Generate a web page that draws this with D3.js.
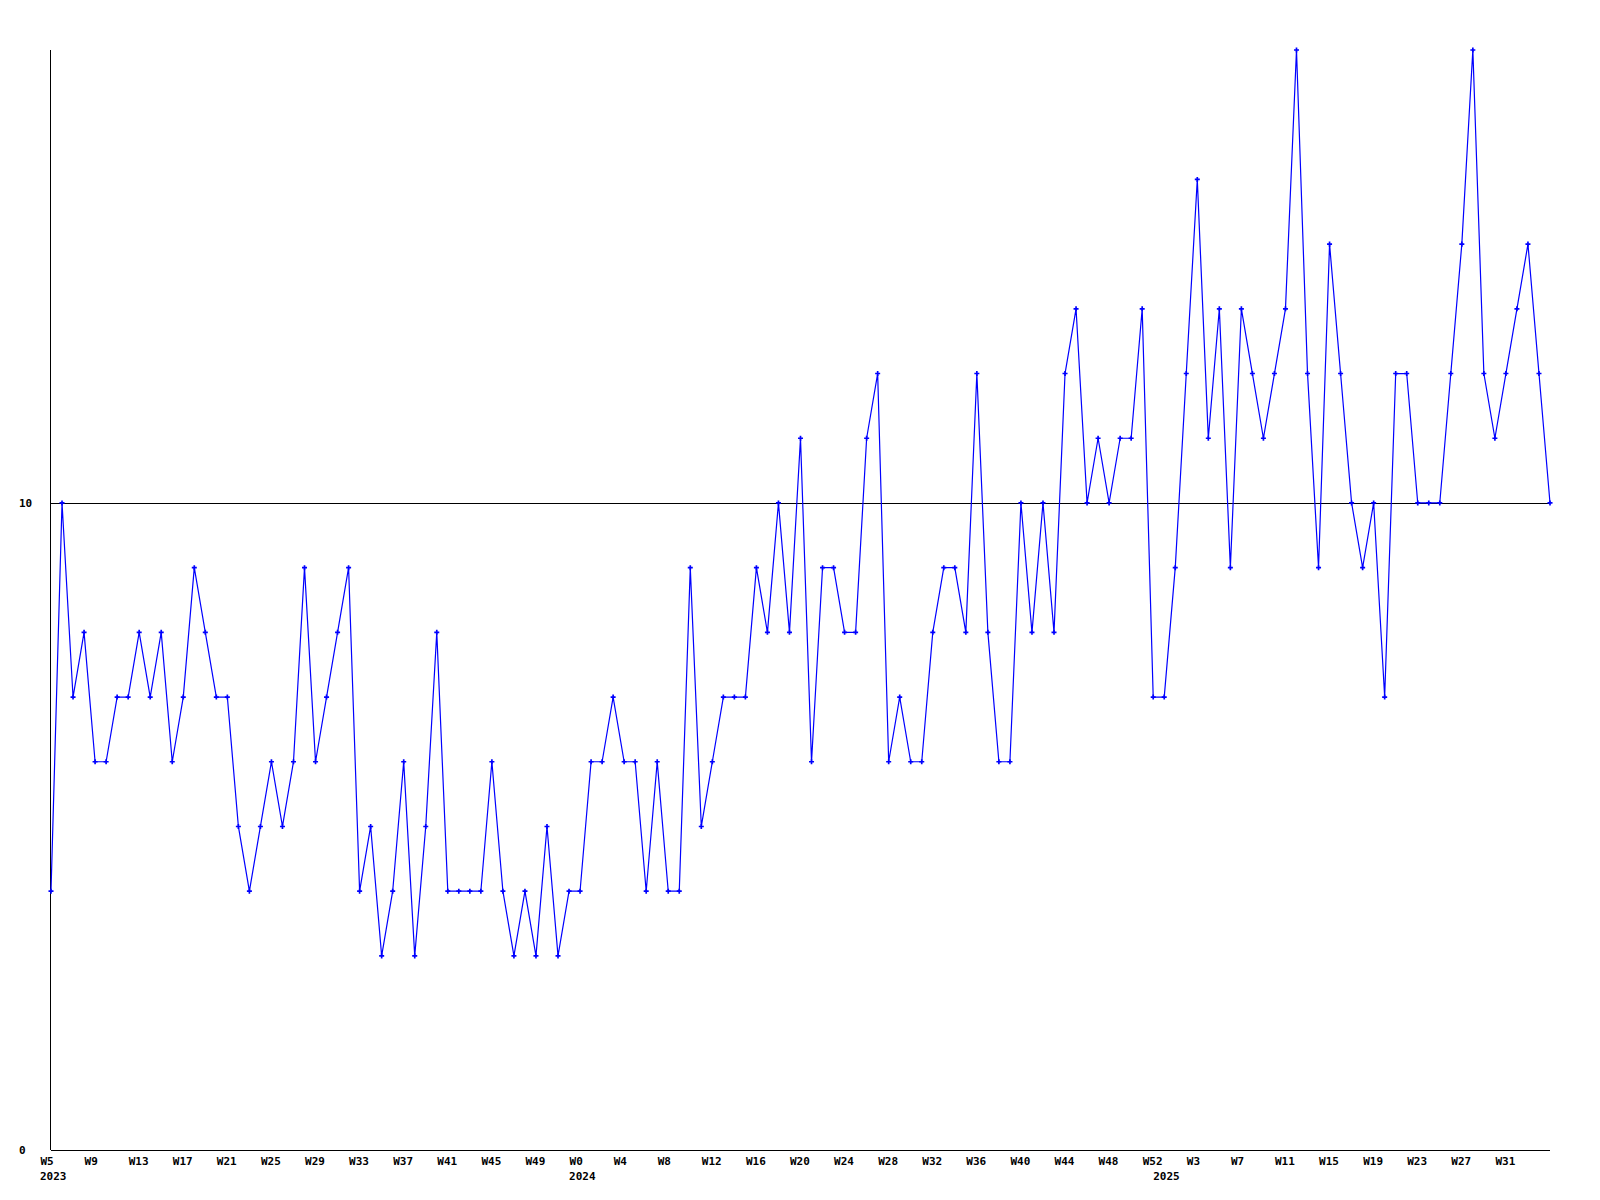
<!DOCTYPE html>
<html>
<head>
<meta charset="utf-8">
<script src="https://cdn.jsdelivr.net/npm/d3@7"></script>
<style>
  html, body { margin: 0; padding: 0; background: #ffffff; }
  svg { display: block; }
  text { font-family: "DejaVu Sans Mono", monospace; font-weight: bold; font-size: 11px; fill: #000; }
</style>
</head>
<body>
<svg id="chart" width="1600" height="1200"></svg>
<script>
// ---- data ----
const yearSegments = [
  { year: 2023, firstWeek: 5, lastWeek: 52 },
  { year: 2024, firstWeek: 0, lastWeek: 52 },
  { year: 2025, firstWeek: 0, lastWeek: 35 }
];
const values = [
  4,10,7,8,6,6,7,7,8,7,
  8,6,7,9,8,7,7,5,4,5,
  6,5,6,9,6,7,8,9,4,5,
  3,4,6,3,5,8,4,4,4,4,
  6,4,3,4,3,5,3,4,4,6,
  6,7,6,6,4,6,4,4,9,5,
  6,7,7,7,9,8,10,8,11,6,
  9,9,8,8,11,12,6,7,6,6,
  8,9,9,8,12,8,6,6,10,8,
  10,8,12,13,10,11,10,11,11,13,
  7,7,9,12,15,11,13,9,13,12,
  11,12,13,17,12,9,14,12,10,9,
  10,7,12,12,10,10,10,12,14,17,
  12,11,12,13,14,12,10
];
const yTickValues = [0, 10];
const referenceValue = 10;
const tickEvery = 4;

// categories: week keys
const categories = [];
const yearStarts = [];
yearSegments.forEach(s => {
  yearStarts.push({ key: s.year + "-W" + s.firstWeek, label: String(s.year) });
  for (let w = s.firstWeek; w <= s.lastWeek; w++) categories.push({ key: s.year + "-W" + w, label: "W" + w });
});
const tickKeys = categories
  .filter((c, i) => i % tickEvery === 0 && i < categories.length - 1)
  .map(c => c.key);
const labelOf = new Map(categories.map(c => [c.key, c.label]));

// ---- layout ----
const plotLeft = 51, plotRight = 1550, plotTop = 50, plotBottom = 1150;
const svg = d3.select("#chart");

const x = d3.scalePoint().domain(categories.map(c => c.key)).range([plotLeft, plotRight]);
const y = d3.scaleLinear().domain([0, 17]).range([plotBottom, plotTop]);

// axes
const xAxis = d3.axisBottom(x).tickValues(tickKeys).tickSize(0).tickFormat(k => labelOf.get(k));
const gx = svg.append("g").attr("transform", `translate(0,${plotBottom})`).call(xAxis);
gx.select(".domain").attr("stroke", "#000").attr("shape-rendering", "crispEdges")
  .attr("d", `M${plotLeft},0.5H${plotRight}`);
gx.selectAll(".tick text").attr("text-anchor", "start").attr("x", -11).attr("y", 15).attr("dy", 0)
  .style("font-family", "'DejaVu Sans Mono', monospace").style("font-size", "11px").style("font-weight", "bold");

// year labels
svg.append("g").selectAll("text").data(yearStarts).join("text")
  .attr("x", d => x(d.key) - 11).attr("y", plotBottom + 30)
  .text(d => d.label);

const yAxis = d3.axisLeft(y).tickValues(yTickValues).tickSize(0).tickFormat(d3.format("d"));
const gy = svg.append("g").attr("transform", `translate(${plotLeft},0)`).call(yAxis);
gy.select(".domain").attr("stroke", "#000").attr("shape-rendering", "crispEdges")
  .attr("d", `M-0.5,${plotTop}V${plotBottom}`);
gy.selectAll(".tick text").attr("text-anchor", "start").attr("x", -32).attr("dy", "0.35em")
  .style("font-family", "'DejaVu Sans Mono', monospace").style("font-size", "11px").style("font-weight", "bold");

// reference line at 10
svg.append("line")
  .attr("x1", plotLeft).attr("x2", plotRight)
  .attr("y1", Math.round(y(referenceValue)) + 0.5).attr("y2", Math.round(y(referenceValue)) + 0.5)
  .attr("stroke", "#000").attr("stroke-width", 1).attr("shape-rendering", "crispEdges");

// series line
const pts = values.map((v, i) => ({ key: categories[i].key, v }));
svg.append("path")
  .datum(pts)
  .attr("fill", "none")
  .attr("stroke", "#0000ff")
  .attr("stroke-width", 1.2)
  .attr("d", d3.line().x(d => x(d.key)).y(d => y(d.v)));

// markers
svg.append("g").selectAll("path").data(pts).join("path")
  .attr("transform", d => `translate(${x(d.key)},${y(d.v)})`)
  .attr("d", d3.symbol(d3.symbolCross, 14))
  .attr("fill", "#0000ff");
</script>
</body>
</html>
